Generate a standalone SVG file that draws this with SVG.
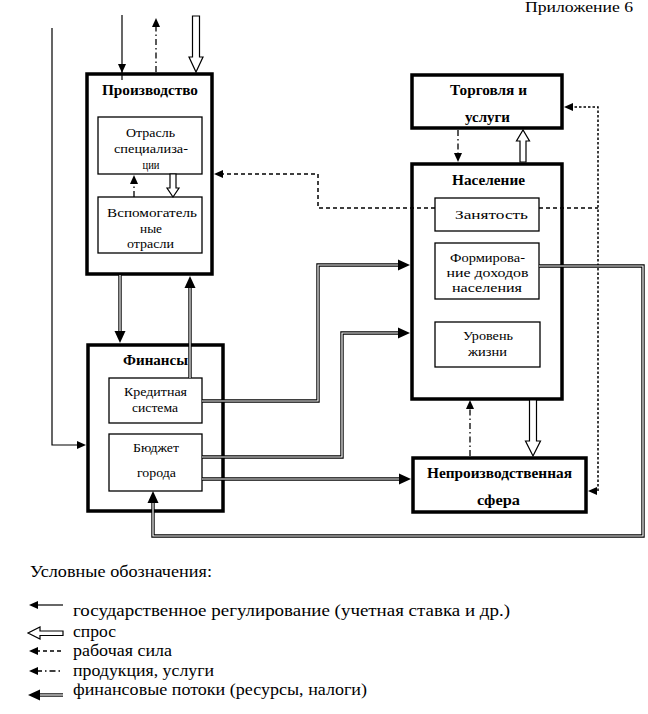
<svg xmlns="http://www.w3.org/2000/svg" xmlns:xlink="http://www.w3.org/1999/xlink" width="648" height="714" viewBox="0 0 648 714">
<style>
.outer{fill:#fff;stroke:#000;stroke-width:3.5}
.inner{fill:#fff;stroke:#000;stroke-width:1.3}
text{font-family:"Liberation Serif","Times New Roman",serif;fill:#000}
.t{font-size:13px;text-anchor:middle}
.tb{font-size:14px;font-weight:bold;text-anchor:middle}
.lg{font-size:16.5px}
.reg{fill:none;stroke:#000;stroke-width:1.2}
.dash{fill:none;stroke:#000;stroke-width:1.5;stroke-dasharray:4 3}
.dot{fill:none;stroke:#000;stroke-width:1.5;stroke-dasharray:2.5 2}
.dd{fill:none;stroke:#000;stroke-width:1.3;stroke-dasharray:6 3 1.5 3}
.finB{fill:none;stroke:#000;stroke-width:3.4}
.finW{fill:none;stroke:#fff;stroke-width:1.2}
.hol{fill:#fff;stroke:#000;stroke-width:1.2}
.ah{fill:#000}
</style>
<defs>
<path id="ahF" d="M0,0 L-12,-5.5 L-12,5.5 Z"/>
<path id="ahS" d="M0,0 L-9,-4 L-9,4 Z"/>
</defs>

<text class="lg" x="525" y="12" style="font-size:14px" textLength="108" lengthAdjust="spacingAndGlyphs">Приложение 6</text>

<g id="node-proizvodstvo">
<rect class="outer" x="87" y="74" width="125" height="200"/>
<text class="tb" x="150" y="95" textLength="96" lengthAdjust="spacingAndGlyphs">Производство</text>
</g>
<g id="node-otrasl">
<rect class="inner" x="98" y="117" width="104" height="57"/>
<text class="t" x="150.5" y="136.5" textLength="49" lengthAdjust="spacingAndGlyphs">Отрасль</text>
<text class="t" x="151" y="152.5" textLength="74" lengthAdjust="spacingAndGlyphs">специализа-</text>
<text class="t" x="151" y="168.5" textLength="17" lengthAdjust="spacingAndGlyphs">ции</text>
</g>
<g id="node-vspom">
<rect class="inner" x="98" y="197" width="104" height="56"/>
<text class="t" x="152" y="216.5" textLength="90" lengthAdjust="spacingAndGlyphs">Вспомогатель</text>
<text class="t" x="151" y="232.5" textLength="22" lengthAdjust="spacingAndGlyphs">ные</text>
<text class="t" x="150.5" y="247.5" textLength="47" lengthAdjust="spacingAndGlyphs">отрасли</text>
</g>

<g id="node-finansy">
<rect class="outer" x="88" y="345" width="135" height="166"/>
<text class="tb" x="155.5" y="365" textLength="65" lengthAdjust="spacingAndGlyphs">Финансы</text>
</g>
<g id="node-kredit">
<rect class="inner" x="109" y="378" width="93" height="45"/>
<text class="t" x="155.5" y="396" textLength="63" lengthAdjust="spacingAndGlyphs">Кредитная</text>
<text class="t" x="155" y="412" textLength="46" lengthAdjust="spacingAndGlyphs">система</text>
</g>
<g id="node-budget">
<rect class="inner" x="109" y="434" width="93" height="57"/>
<text class="t" x="156" y="452" textLength="46" lengthAdjust="spacingAndGlyphs">Бюджет</text>
<text class="t" x="156.5" y="477" textLength="39" lengthAdjust="spacingAndGlyphs">города</text>
</g>

<g id="node-torgovlya">
<rect class="outer" x="412" y="75" width="150" height="53"/>
<text class="tb" x="488.5" y="95" textLength="77" lengthAdjust="spacingAndGlyphs">Торговля и</text>
<text class="tb" x="487.5" y="122" textLength="45" lengthAdjust="spacingAndGlyphs">услуги</text>
</g>

<g id="node-naselenie">
<rect class="outer" x="412" y="164" width="150" height="235"/>
<text class="tb" x="488.5" y="185" textLength="73" lengthAdjust="spacingAndGlyphs">Население</text>
</g>
<g id="node-zanyatost">
<rect class="inner" x="435" y="198" width="104" height="33"/>
<text class="t" x="491.5" y="218.5" textLength="73" lengthAdjust="spacingAndGlyphs">Занятость</text>
</g>
<g id="node-formirovanie">
<rect class="inner" x="435" y="243" width="104" height="56"/>
<text class="t" x="487.5" y="262" textLength="75" lengthAdjust="spacingAndGlyphs">Формирова-</text>
<text class="t" x="487.5" y="277" textLength="82" lengthAdjust="spacingAndGlyphs">ние доходов</text>
<text class="t" x="487" y="292" textLength="70" lengthAdjust="spacingAndGlyphs">населения</text>
</g>
<g id="node-uroven">
<rect class="inner" x="435" y="322" width="105" height="45"/>
<text class="t" x="488" y="339.5" textLength="50" lengthAdjust="spacingAndGlyphs">Уровень</text>
<text class="t" x="487.5" y="356" textLength="39" lengthAdjust="spacingAndGlyphs">жизни</text>
</g>

<g id="node-neproizv">
<rect class="outer" x="413" y="458" width="173" height="54"/>
<text class="tb" x="499.5" y="477.5" textLength="145" lengthAdjust="spacingAndGlyphs">Непроизводственная</text>
<text class="tb" x="498.5" y="504.5" textLength="43" lengthAdjust="spacingAndGlyphs">сфера</text>
</g>

<g id="connectors">
<path class="reg" d="M122,15 V80"/>
<use href="#ahS" class="ah" transform="translate(122,73) rotate(90)"/>
<path class="reg" d="M52,28 V445 H80"/>
<use href="#ahS" class="ah" transform="translate(86,445)"/>

<path class="dd" d="M156,72 V22"/>
<use href="#ahS" class="ah" transform="translate(156,18) rotate(-90)"/>
<path class="dd" d="M134,197 V180"/>
<use href="#ahS" class="ah" transform="translate(134,175) rotate(-90)"/>
<path class="dd" d="M458,130 V156"/>
<use href="#ahS" class="ah" transform="translate(458,162) rotate(90)"/>
<path class="dd" d="M470,456 V405"/>
<use href="#ahS" class="ah" transform="translate(470,400) rotate(-90)"/>

<path class="hol" d="M192.5,16 H199.5 V57 H203 L196,72 L189,57 H192.5 Z"/>
<path class="hol" d="M170,174 H176 V188 H179 L173,197 L167,188 H170 Z"/>
<path class="hol" d="M520,162 H526 V141 H529.5 L523,130 L516.5,141 H520 Z"/>
<path class="hol" d="M529.5,400 H536.5 V441 H540.5 L533,456 L525.5,441 H529.5 Z"/>

<path class="dot" d="M570,107 H598 V491 H594"/>
<use href="#ahS" class="ah" transform="translate(564,107) rotate(180)"/>
<use href="#ahS" class="ah" transform="translate(588,491) rotate(180)"/>
<path class="dash" d="M539,208 H598"/>
<path class="dash" d="M435,208 H318 V174 H220"/>
<use href="#ahS" class="ah" transform="translate(214,174) rotate(180)"/>

<path class="finB" d="M120,275 V333"/>
<path class="finW" d="M120,275 V333"/>
<use href="#ahF" class="ah" transform="translate(120,343) rotate(90)"/>
<path class="finB" d="M190,378 V287"/>
<path class="finW" d="M190,378 V287"/>
<use href="#ahF" class="ah" transform="translate(190,276) rotate(-90)"/>
<path class="finB" d="M202,401 H318 V265 H400"/>
<path class="finW" d="M202,401 H318 V265 H400"/>
<use href="#ahF" class="ah" transform="translate(410,265)"/>
<path class="finB" d="M202,457 H342 V333 H400"/>
<path class="finW" d="M202,457 H342 V333 H400"/>
<use href="#ahF" class="ah" transform="translate(410,333)"/>
<path class="finB" d="M202,479 H401"/>
<path class="finW" d="M202,479 H401"/>
<use href="#ahF" class="ah" transform="translate(411,479)"/>
<path class="finB" d="M539,266 H643 V536 H153 V502"/>
<path class="finW" d="M539,266 H643 V536 H153 V502"/>
<use href="#ahF" class="ah" transform="translate(153,491) rotate(-90)"/>
</g>

<g id="legend">
<text class="lg" x="30" y="577" textLength="182" lengthAdjust="spacingAndGlyphs">Условные обозначения:</text>
<path class="reg" d="M36,605 H63"/>
<use href="#ahS" class="ah" transform="translate(29,605) rotate(180)"/>
<text class="lg" x="73" y="616" textLength="437" lengthAdjust="spacingAndGlyphs">государственное регулирование (учетная ставка и др.)</text>
<path class="hol" d="M63,631 V635.5 H40 V639 L28,633 L40,627 V631 Z"/>
<text class="lg" x="73" y="637" textLength="43" lengthAdjust="spacingAndGlyphs">спрос</text>
<path class="dash" d="M36,651 H63"/>
<use href="#ahS" class="ah" transform="translate(29,651) rotate(180)"/>
<text class="lg" x="73" y="656" textLength="99" lengthAdjust="spacingAndGlyphs">рабочая сила</text>
<path class="dd" d="M36,671 H63"/>
<use href="#ahS" class="ah" transform="translate(29,671) rotate(180)"/>
<text class="lg" x="73" y="676" textLength="141" lengthAdjust="spacingAndGlyphs">продукция, услуги</text>
<path class="finB" d="M40,695 H63"/>
<path class="finW" d="M40,695 H63"/>
<use href="#ahF" class="ah" transform="translate(28,695) rotate(180)"/>
<text class="lg" x="73" y="695" textLength="294" lengthAdjust="spacingAndGlyphs">финансовые потоки (ресурсы, налоги)</text>
</g>
</svg>
